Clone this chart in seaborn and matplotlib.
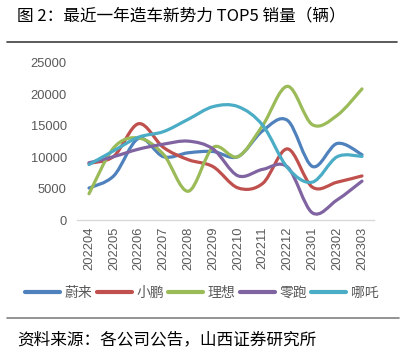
import numpy as np
import pandas as pd
import matplotlib
matplotlib.use("Agg")
import matplotlib.pyplot as plt
from matplotlib.path import Path
from matplotlib.patches import PathPatch
from matplotlib.lines import Line2D
import seaborn as sns

months = ['202204', '202205', '202206', '202207', '202208', '202209',
          '202210', '202211', '202212', '202301', '202302', '202303']
brands = ['蔚来', '小鹏', '理想', '零跑', '哪吒']
nio = [5074, 7024, 12961, 10052, 10677, 10878, 10059, 14178, 15815, 8506, 12157, 10378]
xpeng = [9002, 10125, 15295, 11524, 9578, 8468, 5101, 5811, 11292, 5218, 6010, 7002]
li = [4167, 11496, 13024, 10422, 4571, 11531, 10052, 15034, 21233, 15141, 16620, 20823]
leap = [9087, 10069, 11259, 12044, 12525, 11275, 7026, 8045, 8400, 1139, 3198, 6172]
neta = [8800, 11009, 13157, 14037, 16000, 18005, 18016, 15038, 8300, 6016, 10050, 10102]
colors = ['#4F81BD', '#C0504D', '#9BBB59', '#8064A2', '#4BACC6']
yticks = [0, 5000, 10000, 15000, 20000, 25000]

series = [nio, xpeng, li, leap, neta]
rows = []
for b, vals in zip(brands, series):
    for i, v in enumerate(vals):
        rows.append({'idx': i, 'brand': b, 'value': v})
df = pd.DataFrame(rows)

sns.set_style('white')
plt.rcParams['font.family'] = ['Liberation Sans', 'Noto Sans CJK SC', 'DejaVu Sans']
cjk = ['Noto Sans CJK SC', 'DejaVu Sans']
gray = '#595959'

fig = plt.figure(figsize=(4.04, 3.54), dpi=100)
ax = fig.add_axes([76.6 / 404, 1 - 220 / 354, (374.4 - 76.6) / 404, (220 - 62.6) / 354])

sns.lineplot(data=df, x='idx', y='value', hue='brand', hue_order=brands,
             palette=colors, ax=ax, legend=False, sort=False, estimator=None)

# Replace straight segments with smooth (Excel-like) Bezier curves
for line, col in zip(list(ax.lines), colors):
    pts = line.get_xydata()
    n = len(pts)
    verts = [pts[0]]
    codes = [Path.MOVETO]
    for i in range(n - 1):
        p0 = pts[i - 1] if i > 0 else pts[i]
        p1 = pts[i]
        p2 = pts[i + 1]
        p3 = pts[i + 2] if i + 2 < n else pts[i + 1]
        c1 = p1 + (p2 - p0) / 6.0
        c2 = p2 - (p3 - p1) / 6.0
        verts += [c1, c2, p2]
        codes += [Path.CURVE4] * 3
    patch = PathPatch(Path(verts, codes), fill=False, edgecolor=col, lw=2.3,
                      capstyle='round', joinstyle='round', transform=ax.transData)
    ax.add_patch(patch)
    line.set_visible(False)

ax.set_xlim(-0.5, 11.5)
ax.set_ylim(0, 25000)
ax.set_yticks(yticks)
ax.set_yticklabels([str(t) for t in yticks])
ax.set_xticks(range(len(months)))
ax.set_xticklabels(months, rotation=90)
ax.set_xlabel('')
ax.set_ylabel('')
ax.tick_params(axis='both', length=0, labelsize=9.3, labelcolor=gray)
ax.tick_params(axis='y', pad=7)
ax.tick_params(axis='x', pad=5)
for s in ['top', 'right', 'left']:
    ax.spines[s].set_visible(False)
ax.spines['bottom'].set_color('#D9D9D9')
ax.spines['bottom'].set_linewidth(1.0)
ax.grid(False)

handles = [Line2D([], [], color=c, lw=3) for c in colors]
leg = fig.legend(handles, brands, loc='center', bbox_to_anchor=(0.5, 1 - 292.7 / 354),
                 ncol=5, frameon=False, handlelength=2.5, handletextpad=0.35,
                 columnspacing=0.3, prop={'family': cjk, 'size': 10})
for t in leg.get_texts():
    t.set_color(gray)

fig.text(17 / 404, 1 - 15.5 / 354, '图 2：最近一年造车新势力 TOP5 销量（辆）',
         family=cjk, fontsize=12, va='center', ha='left', color='black')
fig.add_artist(Line2D([7 / 404, 397 / 404], [1 - 41.5 / 354] * 2,
                      color='#404040', lw=1.2, transform=fig.transFigure))
fig.add_artist(Line2D([7 / 404, 399 / 404], [1 - 318 / 354] * 2,
                      color='#808080', lw=1.2, transform=fig.transFigure))
fig.text(17 / 404, 1 - 339.5 / 354, '资料来源：各公司公告，山西证券研究所',
         family=cjk, fontsize=12, va='center', ha='left', color='black')

fig.savefig('out.png', dpi=100)
